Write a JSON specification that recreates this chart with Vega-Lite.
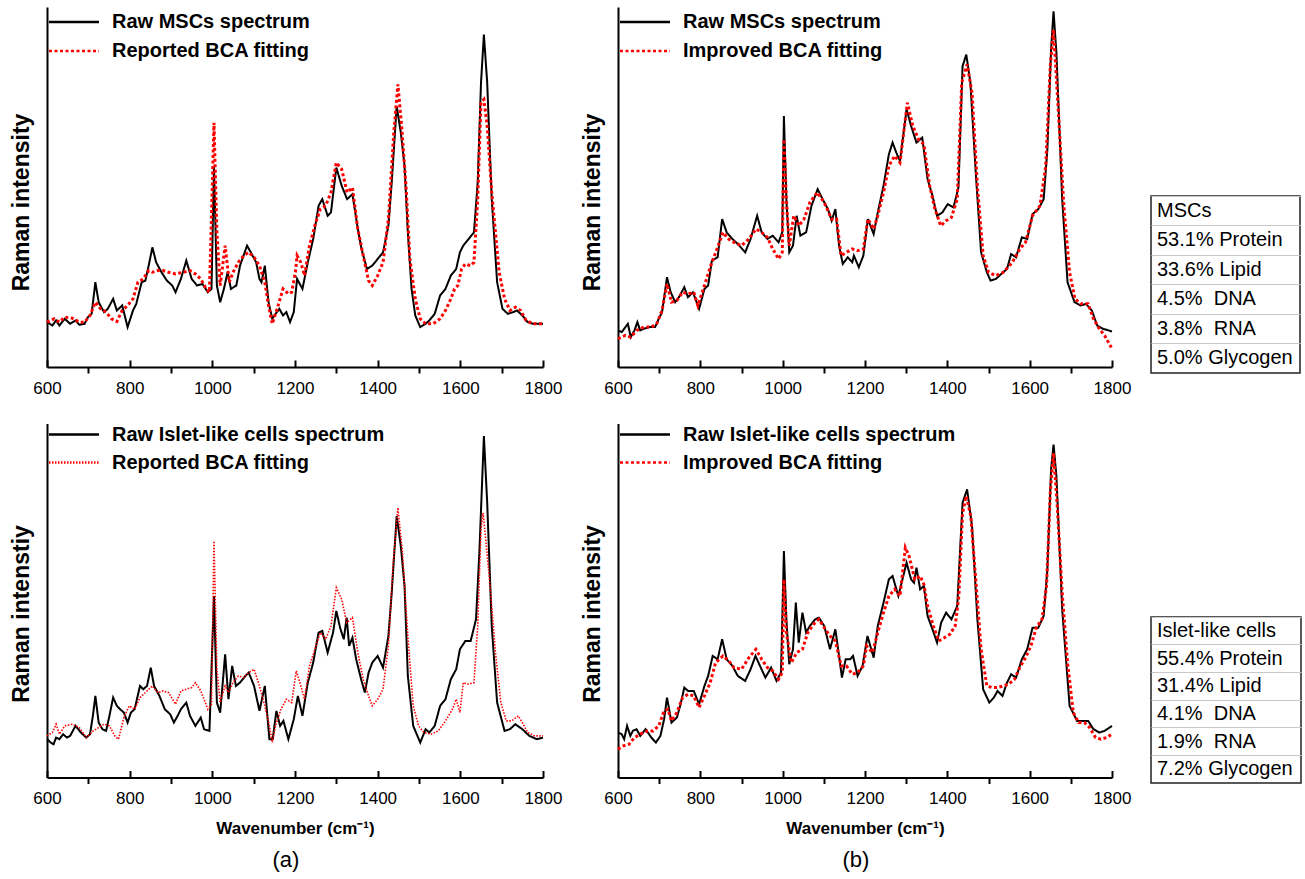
{
"$schema": "https://vega.github.io/schema/vega-lite/v6.json",
"background": "white",
"padding": {"left": 10, "top": 7, "right": 5, "bottom": 5},
"datasets": {
"a1": [
{"s":"raw","wn":600,"i":135},{"s":"raw","wn":613,"i":125},{"s":"raw","wn":622,"i":140},{"s":"raw","wn":630,"i":125},{"s":"raw","wn":643,"i":145},{"s":"raw","wn":656,"i":130},{"s":"raw","wn":669,"i":140},{"s":"raw","wn":678,"i":127},{"s":"raw","wn":691,"i":130},{"s":"raw","wn":699,"i":150},{"s":"raw","wn":708,"i":160},{"s":"raw","wn":717,"i":255},{"s":"raw","wn":725,"i":195},{"s":"raw","wn":738,"i":165},{"s":"raw","wn":747,"i":175},{"s":"raw","wn":760,"i":205},{"s":"raw","wn":769,"i":170},{"s":"raw","wn":782,"i":185},{"s":"raw","wn":795,"i":120},{"s":"raw","wn":808,"i":170},{"s":"raw","wn":816,"i":190},{"s":"raw","wn":829,"i":255},{"s":"raw","wn":838,"i":260},{"s":"raw","wn":846,"i":305},{"s":"raw","wn":855,"i":360},{"s":"raw","wn":864,"i":315},{"s":"raw","wn":877,"i":285},{"s":"raw","wn":890,"i":260},{"s":"raw","wn":903,"i":245},{"s":"raw","wn":911,"i":225},{"s":"raw","wn":924,"i":265},{"s":"raw","wn":937,"i":320},{"s":"raw","wn":950,"i":265},{"s":"raw","wn":963,"i":245},{"s":"raw","wn":976,"i":250},{"s":"raw","wn":989,"i":225},{"s":"raw","wn":998,"i":235},{"s":"raw","wn":1004,"i":605},{"s":"raw","wn":1011,"i":245},{"s":"raw","wn":1019,"i":195},{"s":"raw","wn":1028,"i":235},{"s":"raw","wn":1037,"i":285},{"s":"raw","wn":1045,"i":235},{"s":"raw","wn":1058,"i":245},{"s":"raw","wn":1067,"i":305},{"s":"raw","wn":1084,"i":365},{"s":"raw","wn":1093,"i":345},{"s":"raw","wn":1106,"i":315},{"s":"raw","wn":1114,"i":265},{"s":"raw","wn":1119,"i":255},{"s":"raw","wn":1127,"i":305},{"s":"raw","wn":1136,"i":195},{"s":"raw","wn":1145,"i":145},{"s":"raw","wn":1153,"i":160},{"s":"raw","wn":1162,"i":175},{"s":"raw","wn":1171,"i":155},{"s":"raw","wn":1179,"i":165},{"s":"raw","wn":1188,"i":135},{"s":"raw","wn":1197,"i":165},{"s":"raw","wn":1205,"i":265},{"s":"raw","wn":1218,"i":235},{"s":"raw","wn":1231,"i":315},{"s":"raw","wn":1244,"i":385},{"s":"raw","wn":1257,"i":485},{"s":"raw","wn":1266,"i":505},{"s":"raw","wn":1279,"i":455},{"s":"raw","wn":1287,"i":465},{"s":"raw","wn":1300,"i":600},{"s":"raw","wn":1313,"i":545},{"s":"raw","wn":1326,"i":505},{"s":"raw","wn":1339,"i":520},{"s":"raw","wn":1352,"i":415},{"s":"raw","wn":1361,"i":355},{"s":"raw","wn":1374,"i":295},{"s":"raw","wn":1387,"i":305},{"s":"raw","wn":1400,"i":325},{"s":"raw","wn":1413,"i":345},{"s":"raw","wn":1426,"i":425},{"s":"raw","wn":1434,"i":555},{"s":"raw","wn":1446,"i":785},{"s":"raw","wn":1456,"i":705},{"s":"raw","wn":1465,"i":605},{"s":"raw","wn":1473,"i":405},{"s":"raw","wn":1482,"i":235},{"s":"raw","wn":1491,"i":155},{"s":"raw","wn":1503,"i":120},{"s":"raw","wn":1516,"i":130},{"s":"raw","wn":1525,"i":140},{"s":"raw","wn":1538,"i":160},{"s":"raw","wn":1551,"i":215},{"s":"raw","wn":1564,"i":235},{"s":"raw","wn":1577,"i":275},{"s":"raw","wn":1590,"i":295},{"s":"raw","wn":1599,"i":345},{"s":"raw","wn":1607,"i":365},{"s":"raw","wn":1620,"i":385},{"s":"raw","wn":1633,"i":405},{"s":"raw","wn":1642,"i":555},{"s":"raw","wn":1650,"i":855},{"s":"raw","wn":1657,"i":1000},{"s":"raw","wn":1665,"i":855},{"s":"raw","wn":1676,"i":505},{"s":"raw","wn":1689,"i":255},{"s":"raw","wn":1702,"i":175},{"s":"raw","wn":1715,"i":160},{"s":"raw","wn":1728,"i":165},{"s":"raw","wn":1737,"i":170},{"s":"raw","wn":1750,"i":155},{"s":"raw","wn":1763,"i":135},{"s":"raw","wn":1776,"i":130},{"s":"raw","wn":1789,"i":130},{"s":"raw","wn":1800,"i":130},
{"s":"fit","wn":600,"i":135},{"s":"fit","wn":617,"i":145},{"s":"fit","wn":630,"i":135},{"s":"fit","wn":643,"i":150},{"s":"fit","wn":661,"i":147},{"s":"fit","wn":678,"i":135},{"s":"fit","wn":691,"i":135},{"s":"fit","wn":704,"i":155},{"s":"fit","wn":717,"i":195},{"s":"fit","wn":730,"i":175},{"s":"fit","wn":743,"i":165},{"s":"fit","wn":756,"i":145},{"s":"fit","wn":769,"i":137},{"s":"fit","wn":782,"i":170},{"s":"fit","wn":795,"i":185},{"s":"fit","wn":808,"i":205},{"s":"fit","wn":820,"i":255},{"s":"fit","wn":833,"i":265},{"s":"fit","wn":846,"i":290},{"s":"fit","wn":855,"i":285},{"s":"fit","wn":868,"i":290},{"s":"fit","wn":881,"i":290},{"s":"fit","wn":894,"i":285},{"s":"fit","wn":911,"i":280},{"s":"fit","wn":929,"i":285},{"s":"fit","wn":946,"i":290},{"s":"fit","wn":959,"i":280},{"s":"fit","wn":972,"i":265},{"s":"fit","wn":985,"i":235},{"s":"fit","wn":993,"i":225},{"s":"fit","wn":1004,"i":735},{"s":"fit","wn":1011,"i":405},{"s":"fit","wn":1019,"i":245},{"s":"fit","wn":1031,"i":365},{"s":"fit","wn":1041,"i":255},{"s":"fit","wn":1050,"i":285},{"s":"fit","wn":1063,"i":315},{"s":"fit","wn":1076,"i":335},{"s":"fit","wn":1088,"i":345},{"s":"fit","wn":1101,"i":330},{"s":"fit","wn":1114,"i":305},{"s":"fit","wn":1127,"i":255},{"s":"fit","wn":1136,"i":185},{"s":"fit","wn":1145,"i":130},{"s":"fit","wn":1158,"i":180},{"s":"fit","wn":1171,"i":235},{"s":"fit","wn":1184,"i":220},{"s":"fit","wn":1192,"i":225},{"s":"fit","wn":1201,"i":285},{"s":"fit","wn":1205,"i":335},{"s":"fit","wn":1214,"i":315},{"s":"fit","wn":1223,"i":275},{"s":"fit","wn":1235,"i":365},{"s":"fit","wn":1248,"i":425},{"s":"fit","wn":1261,"i":475},{"s":"fit","wn":1274,"i":485},{"s":"fit","wn":1287,"i":525},{"s":"fit","wn":1300,"i":615},{"s":"fit","wn":1313,"i":595},{"s":"fit","wn":1326,"i":525},{"s":"fit","wn":1339,"i":540},{"s":"fit","wn":1352,"i":415},{"s":"fit","wn":1365,"i":335},{"s":"fit","wn":1378,"i":260},{"s":"fit","wn":1387,"i":245},{"s":"fit","wn":1400,"i":275},{"s":"fit","wn":1413,"i":315},{"s":"fit","wn":1426,"i":445},{"s":"fit","wn":1439,"i":705},{"s":"fit","wn":1449,"i":850},{"s":"fit","wn":1458,"i":725},{"s":"fit","wn":1469,"i":535},{"s":"fit","wn":1478,"i":325},{"s":"fit","wn":1491,"i":205},{"s":"fit","wn":1503,"i":145},{"s":"fit","wn":1516,"i":130},{"s":"fit","wn":1534,"i":130},{"s":"fit","wn":1551,"i":145},{"s":"fit","wn":1564,"i":170},{"s":"fit","wn":1577,"i":205},{"s":"fit","wn":1586,"i":235},{"s":"fit","wn":1594,"i":245},{"s":"fit","wn":1603,"i":295},{"s":"fit","wn":1612,"i":310},{"s":"fit","wn":1625,"i":305},{"s":"fit","wn":1633,"i":315},{"s":"fit","wn":1642,"i":505},{"s":"fit","wn":1650,"i":795},{"s":"fit","wn":1657,"i":805},{"s":"fit","wn":1665,"i":725},{"s":"fit","wn":1676,"i":525},{"s":"fit","wn":1685,"i":405},{"s":"fit","wn":1694,"i":285},{"s":"fit","wn":1707,"i":205},{"s":"fit","wn":1720,"i":170},{"s":"fit","wn":1733,"i":180},{"s":"fit","wn":1746,"i":170},{"s":"fit","wn":1759,"i":140},{"s":"fit","wn":1776,"i":130},{"s":"fit","wn":1800,"i":130}
],
"b1": [
{"s":"raw","wn":600,"i":110},{"s":"raw","wn":609,"i":105},{"s":"raw","wn":618,"i":120},{"s":"raw","wn":624,"i":130},{"s":"raw","wn":631,"i":90},{"s":"raw","wn":640,"i":110},{"s":"raw","wn":647,"i":135},{"s":"raw","wn":654,"i":110},{"s":"raw","wn":663,"i":115},{"s":"raw","wn":676,"i":120},{"s":"raw","wn":690,"i":120},{"s":"raw","wn":699,"i":145},{"s":"raw","wn":707,"i":165},{"s":"raw","wn":719,"i":270},{"s":"raw","wn":728,"i":225},{"s":"raw","wn":739,"i":195},{"s":"raw","wn":748,"i":210},{"s":"raw","wn":761,"i":240},{"s":"raw","wn":770,"i":210},{"s":"raw","wn":782,"i":225},{"s":"raw","wn":797,"i":175},{"s":"raw","wn":810,"i":235},{"s":"raw","wn":819,"i":245},{"s":"raw","wn":828,"i":320},{"s":"raw","wn":842,"i":330},{"s":"raw","wn":853,"i":445},{"s":"raw","wn":864,"i":405},{"s":"raw","wn":878,"i":385},{"s":"raw","wn":891,"i":370},{"s":"raw","wn":909,"i":345},{"s":"raw","wn":922,"i":385},{"s":"raw","wn":938,"i":455},{"s":"raw","wn":949,"i":405},{"s":"raw","wn":963,"i":385},{"s":"raw","wn":976,"i":395},{"s":"raw","wn":990,"i":375},{"s":"raw","wn":999,"i":405},{"s":"raw","wn":1003,"i":755},{"s":"raw","wn":1009,"i":505},{"s":"raw","wn":1016,"i":345},{"s":"raw","wn":1025,"i":365},{"s":"raw","wn":1034,"i":455},{"s":"raw","wn":1043,"i":395},{"s":"raw","wn":1057,"i":405},{"s":"raw","wn":1070,"i":485},{"s":"raw","wn":1085,"i":535},{"s":"raw","wn":1097,"i":505},{"s":"raw","wn":1110,"i":475},{"s":"raw","wn":1119,"i":440},{"s":"raw","wn":1128,"i":475},{"s":"raw","wn":1137,"i":365},{"s":"raw","wn":1146,"i":310},{"s":"raw","wn":1158,"i":330},{"s":"raw","wn":1169,"i":315},{"s":"raw","wn":1173,"i":335},{"s":"raw","wn":1185,"i":300},{"s":"raw","wn":1196,"i":335},{"s":"raw","wn":1207,"i":445},{"s":"raw","wn":1221,"i":400},{"s":"raw","wn":1231,"i":465},{"s":"raw","wn":1245,"i":545},{"s":"raw","wn":1258,"i":640},{"s":"raw","wn":1267,"i":675},{"s":"raw","wn":1276,"i":645},{"s":"raw","wn":1285,"i":620},{"s":"raw","wn":1301,"i":775},{"s":"raw","wn":1312,"i":725},{"s":"raw","wn":1325,"i":675},{"s":"raw","wn":1339,"i":690},{"s":"raw","wn":1352,"i":565},{"s":"raw","wn":1364,"i":515},{"s":"raw","wn":1375,"i":455},{"s":"raw","wn":1388,"i":465},{"s":"raw","wn":1401,"i":490},{"s":"raw","wn":1415,"i":480},{"s":"raw","wn":1427,"i":540},{"s":"raw","wn":1437,"i":905},{"s":"raw","wn":1446,"i":940},{"s":"raw","wn":1456,"i":855},{"s":"raw","wn":1469,"i":585},{"s":"raw","wn":1482,"i":345},{"s":"raw","wn":1496,"i":285},{"s":"raw","wn":1505,"i":260},{"s":"raw","wn":1518,"i":265},{"s":"raw","wn":1531,"i":280},{"s":"raw","wn":1545,"i":295},{"s":"raw","wn":1555,"i":340},{"s":"raw","wn":1567,"i":330},{"s":"raw","wn":1581,"i":390},{"s":"raw","wn":1594,"i":385},{"s":"raw","wn":1607,"i":460},{"s":"raw","wn":1621,"i":475},{"s":"raw","wn":1634,"i":505},{"s":"raw","wn":1643,"i":655},{"s":"raw","wn":1652,"i":955},{"s":"raw","wn":1658,"i":1070},{"s":"raw","wn":1665,"i":945},{"s":"raw","wn":1679,"i":505},{"s":"raw","wn":1692,"i":255},{"s":"raw","wn":1709,"i":195},{"s":"raw","wn":1724,"i":185},{"s":"raw","wn":1737,"i":190},{"s":"raw","wn":1751,"i":170},{"s":"raw","wn":1764,"i":125},{"s":"raw","wn":1778,"i":115},{"s":"raw","wn":1800,"i":107},
{"s":"fit","wn":600,"i":85},{"s":"fit","wn":618,"i":95},{"s":"fit","wn":631,"i":90},{"s":"fit","wn":645,"i":110},{"s":"fit","wn":663,"i":120},{"s":"fit","wn":681,"i":120},{"s":"fit","wn":694,"i":130},{"s":"fit","wn":707,"i":170},{"s":"fit","wn":719,"i":250},{"s":"fit","wn":730,"i":195},{"s":"fit","wn":743,"i":200},{"s":"fit","wn":757,"i":225},{"s":"fit","wn":770,"i":220},{"s":"fit","wn":784,"i":225},{"s":"fit","wn":794,"i":185},{"s":"fit","wn":810,"i":245},{"s":"fit","wn":828,"i":315},{"s":"fit","wn":842,"i":360},{"s":"fit","wn":855,"i":405},{"s":"fit","wn":869,"i":385},{"s":"fit","wn":882,"i":375},{"s":"fit","wn":900,"i":365},{"s":"fit","wn":918,"i":385},{"s":"fit","wn":935,"i":415},{"s":"fit","wn":949,"i":405},{"s":"fit","wn":963,"i":390},{"s":"fit","wn":976,"i":355},{"s":"fit","wn":990,"i":325},{"s":"fit","wn":999,"i":345},{"s":"fit","wn":1003,"i":685},{"s":"fit","wn":1009,"i":505},{"s":"fit","wn":1016,"i":365},{"s":"fit","wn":1027,"i":455},{"s":"fit","wn":1039,"i":425},{"s":"fit","wn":1052,"i":445},{"s":"fit","wn":1066,"i":495},{"s":"fit","wn":1084,"i":525},{"s":"fit","wn":1101,"i":495},{"s":"fit","wn":1119,"i":445},{"s":"fit","wn":1131,"i":445},{"s":"fit","wn":1142,"i":335},{"s":"fit","wn":1155,"i":345},{"s":"fit","wn":1169,"i":355},{"s":"fit","wn":1182,"i":350},{"s":"fit","wn":1196,"i":355},{"s":"fit","wn":1207,"i":445},{"s":"fit","wn":1221,"i":415},{"s":"fit","wn":1231,"i":455},{"s":"fit","wn":1245,"i":525},{"s":"fit","wn":1258,"i":605},{"s":"fit","wn":1272,"i":635},{"s":"fit","wn":1285,"i":615},{"s":"fit","wn":1303,"i":795},{"s":"fit","wn":1316,"i":725},{"s":"fit","wn":1330,"i":685},{"s":"fit","wn":1343,"i":670},{"s":"fit","wn":1357,"i":545},{"s":"fit","wn":1370,"i":475},{"s":"fit","wn":1384,"i":425},{"s":"fit","wn":1397,"i":440},{"s":"fit","wn":1410,"i":450},{"s":"fit","wn":1424,"i":505},{"s":"fit","wn":1435,"i":855},{"s":"fit","wn":1448,"i":910},{"s":"fit","wn":1460,"i":825},{"s":"fit","wn":1473,"i":545},{"s":"fit","wn":1487,"i":335},{"s":"fit","wn":1500,"i":285},{"s":"fit","wn":1518,"i":275},{"s":"fit","wn":1536,"i":285},{"s":"fit","wn":1558,"i":315},{"s":"fit","wn":1576,"i":355},{"s":"fit","wn":1590,"i":375},{"s":"fit","wn":1607,"i":455},{"s":"fit","wn":1625,"i":485},{"s":"fit","wn":1639,"i":605},{"s":"fit","wn":1650,"i":905},{"s":"fit","wn":1658,"i":1015},{"s":"fit","wn":1668,"i":805},{"s":"fit","wn":1683,"i":485},{"s":"fit","wn":1697,"i":285},{"s":"fit","wn":1710,"i":205},{"s":"fit","wn":1724,"i":190},{"s":"fit","wn":1742,"i":190},{"s":"fit","wn":1755,"i":145},{"s":"fit","wn":1769,"i":115},{"s":"fit","wn":1782,"i":95},{"s":"fit","wn":1800,"i":55}
],
"a2": [
{"s":"raw","wn":600,"i":115},{"s":"raw","wn":609,"i":105},{"s":"raw","wn":616,"i":100},{"s":"raw","wn":622,"i":120},{"s":"raw","wn":630,"i":115},{"s":"raw","wn":639,"i":130},{"s":"raw","wn":648,"i":120},{"s":"raw","wn":656,"i":125},{"s":"raw","wn":669,"i":155},{"s":"raw","wn":682,"i":135},{"s":"raw","wn":695,"i":120},{"s":"raw","wn":704,"i":130},{"s":"raw","wn":711,"i":185},{"s":"raw","wn":717,"i":245},{"s":"raw","wn":725,"i":165},{"s":"raw","wn":734,"i":145},{"s":"raw","wn":743,"i":140},{"s":"raw","wn":751,"i":185},{"s":"raw","wn":760,"i":240},{"s":"raw","wn":769,"i":215},{"s":"raw","wn":777,"i":205},{"s":"raw","wn":786,"i":195},{"s":"raw","wn":795,"i":165},{"s":"raw","wn":803,"i":195},{"s":"raw","wn":812,"i":205},{"s":"raw","wn":825,"i":275},{"s":"raw","wn":833,"i":265},{"s":"raw","wn":842,"i":275},{"s":"raw","wn":851,"i":330},{"s":"raw","wn":859,"i":275},{"s":"raw","wn":872,"i":245},{"s":"raw","wn":885,"i":205},{"s":"raw","wn":898,"i":190},{"s":"raw","wn":907,"i":165},{"s":"raw","wn":916,"i":185},{"s":"raw","wn":924,"i":205},{"s":"raw","wn":937,"i":225},{"s":"raw","wn":946,"i":185},{"s":"raw","wn":959,"i":155},{"s":"raw","wn":972,"i":180},{"s":"raw","wn":980,"i":145},{"s":"raw","wn":993,"i":140},{"s":"raw","wn":1004,"i":545},{"s":"raw","wn":1011,"i":225},{"s":"raw","wn":1019,"i":195},{"s":"raw","wn":1031,"i":370},{"s":"raw","wn":1039,"i":235},{"s":"raw","wn":1048,"i":335},{"s":"raw","wn":1057,"i":275},{"s":"raw","wn":1067,"i":285},{"s":"raw","wn":1080,"i":305},{"s":"raw","wn":1088,"i":315},{"s":"raw","wn":1101,"i":275},{"s":"raw","wn":1114,"i":200},{"s":"raw","wn":1127,"i":275},{"s":"raw","wn":1138,"i":115},{"s":"raw","wn":1146,"i":115},{"s":"raw","wn":1155,"i":200},{"s":"raw","wn":1164,"i":155},{"s":"raw","wn":1172,"i":170},{"s":"raw","wn":1184,"i":115},{"s":"raw","wn":1197,"i":175},{"s":"raw","wn":1207,"i":245},{"s":"raw","wn":1218,"i":185},{"s":"raw","wn":1231,"i":285},{"s":"raw","wn":1244,"i":345},{"s":"raw","wn":1257,"i":435},{"s":"raw","wn":1266,"i":440},{"s":"raw","wn":1279,"i":375},{"s":"raw","wn":1292,"i":435},{"s":"raw","wn":1300,"i":500},{"s":"raw","wn":1309,"i":450},{"s":"raw","wn":1318,"i":415},{"s":"raw","wn":1325,"i":480},{"s":"raw","wn":1331,"i":395},{"s":"raw","wn":1339,"i":420},{"s":"raw","wn":1348,"i":355},{"s":"raw","wn":1361,"i":290},{"s":"raw","wn":1369,"i":255},{"s":"raw","wn":1378,"i":315},{"s":"raw","wn":1387,"i":345},{"s":"raw","wn":1400,"i":365},{"s":"raw","wn":1413,"i":330},{"s":"raw","wn":1426,"i":425},{"s":"raw","wn":1434,"i":555},{"s":"raw","wn":1446,"i":785},{"s":"raw","wn":1456,"i":695},{"s":"raw","wn":1465,"i":575},{"s":"raw","wn":1473,"i":305},{"s":"raw","wn":1486,"i":155},{"s":"raw","wn":1503,"i":105},{"s":"raw","wn":1516,"i":145},{"s":"raw","wn":1525,"i":135},{"s":"raw","wn":1538,"i":155},{"s":"raw","wn":1551,"i":215},{"s":"raw","wn":1564,"i":235},{"s":"raw","wn":1577,"i":295},{"s":"raw","wn":1590,"i":325},{"s":"raw","wn":1599,"i":385},{"s":"raw","wn":1612,"i":410},{"s":"raw","wn":1625,"i":410},{"s":"raw","wn":1638,"i":475},{"s":"raw","wn":1646,"i":675},{"s":"raw","wn":1657,"i":1025},{"s":"raw","wn":1665,"i":825},{"s":"raw","wn":1676,"i":455},{"s":"raw","wn":1689,"i":225},{"s":"raw","wn":1707,"i":140},{"s":"raw","wn":1720,"i":145},{"s":"raw","wn":1733,"i":160},{"s":"raw","wn":1750,"i":145},{"s":"raw","wn":1767,"i":125},{"s":"raw","wn":1785,"i":115},{"s":"raw","wn":1800,"i":120},
{"s":"fit","wn":600,"i":125},{"s":"fit","wn":613,"i":135},{"s":"fit","wn":622,"i":160},{"s":"fit","wn":630,"i":130},{"s":"fit","wn":643,"i":155},{"s":"fit","wn":661,"i":160},{"s":"fit","wn":678,"i":150},{"s":"fit","wn":695,"i":120},{"s":"fit","wn":712,"i":140},{"s":"fit","wn":725,"i":150},{"s":"fit","wn":738,"i":160},{"s":"fit","wn":751,"i":155},{"s":"fit","wn":764,"i":125},{"s":"fit","wn":773,"i":115},{"s":"fit","wn":786,"i":180},{"s":"fit","wn":799,"i":215},{"s":"fit","wn":812,"i":205},{"s":"fit","wn":825,"i":240},{"s":"fit","wn":842,"i":260},{"s":"fit","wn":855,"i":275},{"s":"fit","wn":868,"i":255},{"s":"fit","wn":881,"i":260},{"s":"fit","wn":894,"i":255},{"s":"fit","wn":911,"i":220},{"s":"fit","wn":924,"i":260},{"s":"fit","wn":937,"i":265},{"s":"fit","wn":950,"i":270},{"s":"fit","wn":959,"i":285},{"s":"fit","wn":972,"i":260},{"s":"fit","wn":980,"i":235},{"s":"fit","wn":989,"i":205},{"s":"fit","wn":998,"i":220},{"s":"fit","wn":1004,"i":710},{"s":"fit","wn":1011,"i":325},{"s":"fit","wn":1019,"i":225},{"s":"fit","wn":1031,"i":275},{"s":"fit","wn":1039,"i":255},{"s":"fit","wn":1050,"i":285},{"s":"fit","wn":1063,"i":305},{"s":"fit","wn":1076,"i":300},{"s":"fit","wn":1088,"i":315},{"s":"fit","wn":1101,"i":325},{"s":"fit","wn":1114,"i":275},{"s":"fit","wn":1127,"i":215},{"s":"fit","wn":1138,"i":155},{"s":"fit","wn":1145,"i":105},{"s":"fit","wn":1153,"i":155},{"s":"fit","wn":1166,"i":205},{"s":"fit","wn":1179,"i":235},{"s":"fit","wn":1192,"i":225},{"s":"fit","wn":1203,"i":320},{"s":"fit","wn":1212,"i":285},{"s":"fit","wn":1223,"i":235},{"s":"fit","wn":1235,"i":335},{"s":"fit","wn":1248,"i":385},{"s":"fit","wn":1261,"i":435},{"s":"fit","wn":1274,"i":415},{"s":"fit","wn":1287,"i":455},{"s":"fit","wn":1300,"i":570},{"s":"fit","wn":1313,"i":535},{"s":"fit","wn":1325,"i":465},{"s":"fit","wn":1339,"i":480},{"s":"fit","wn":1352,"i":375},{"s":"fit","wn":1365,"i":295},{"s":"fit","wn":1378,"i":245},{"s":"fit","wn":1387,"i":215},{"s":"fit","wn":1400,"i":235},{"s":"fit","wn":1413,"i":265},{"s":"fit","wn":1426,"i":395},{"s":"fit","wn":1437,"i":635},{"s":"fit","wn":1449,"i":810},{"s":"fit","wn":1460,"i":675},{"s":"fit","wn":1473,"i":425},{"s":"fit","wn":1486,"i":215},{"s":"fit","wn":1499,"i":155},{"s":"fit","wn":1512,"i":135},{"s":"fit","wn":1529,"i":130},{"s":"fit","wn":1547,"i":140},{"s":"fit","wn":1564,"i":170},{"s":"fit","wn":1581,"i":205},{"s":"fit","wn":1590,"i":235},{"s":"fit","wn":1599,"i":195},{"s":"fit","wn":1607,"i":285},{"s":"fit","wn":1620,"i":280},{"s":"fit","wn":1633,"i":285},{"s":"fit","wn":1642,"i":455},{"s":"fit","wn":1650,"i":745},{"s":"fit","wn":1655,"i":795},{"s":"fit","wn":1663,"i":695},{"s":"fit","wn":1672,"i":575},{"s":"fit","wn":1685,"i":375},{"s":"fit","wn":1698,"i":225},{"s":"fit","wn":1711,"i":170},{"s":"fit","wn":1724,"i":170},{"s":"fit","wn":1740,"i":185},{"s":"fit","wn":1750,"i":165},{"s":"fit","wn":1763,"i":135},{"s":"fit","wn":1780,"i":125},{"s":"fit","wn":1800,"i":125}
],
"b2": [
{"s":"raw","wn":600,"i":135},{"s":"raw","wn":609,"i":130},{"s":"raw","wn":615,"i":115},{"s":"raw","wn":622,"i":155},{"s":"raw","wn":630,"i":125},{"s":"raw","wn":636,"i":140},{"s":"raw","wn":645,"i":145},{"s":"raw","wn":654,"i":125},{"s":"raw","wn":667,"i":145},{"s":"raw","wn":681,"i":120},{"s":"raw","wn":692,"i":105},{"s":"raw","wn":703,"i":125},{"s":"raw","wn":712,"i":175},{"s":"raw","wn":719,"i":240},{"s":"raw","wn":730,"i":165},{"s":"raw","wn":743,"i":180},{"s":"raw","wn":752,"i":220},{"s":"raw","wn":761,"i":270},{"s":"raw","wn":770,"i":260},{"s":"raw","wn":784,"i":260},{"s":"raw","wn":797,"i":220},{"s":"raw","wn":810,"i":275},{"s":"raw","wn":819,"i":305},{"s":"raw","wn":830,"i":365},{"s":"raw","wn":842,"i":355},{"s":"raw","wn":853,"i":415},{"s":"raw","wn":864,"i":355},{"s":"raw","wn":878,"i":335},{"s":"raw","wn":891,"i":305},{"s":"raw","wn":909,"i":290},{"s":"raw","wn":922,"i":325},{"s":"raw","wn":934,"i":365},{"s":"raw","wn":945,"i":335},{"s":"raw","wn":958,"i":300},{"s":"raw","wn":972,"i":330},{"s":"raw","wn":985,"i":290},{"s":"raw","wn":996,"i":315},{"s":"raw","wn":1003,"i":680},{"s":"raw","wn":1009,"i":475},{"s":"raw","wn":1016,"i":340},{"s":"raw","wn":1025,"i":385},{"s":"raw","wn":1032,"i":525},{"s":"raw","wn":1039,"i":405},{"s":"raw","wn":1048,"i":495},{"s":"raw","wn":1057,"i":435},{"s":"raw","wn":1066,"i":455},{"s":"raw","wn":1079,"i":475},{"s":"raw","wn":1088,"i":480},{"s":"raw","wn":1101,"i":455},{"s":"raw","wn":1115,"i":385},{"s":"raw","wn":1128,"i":445},{"s":"raw","wn":1137,"i":365},{"s":"raw","wn":1144,"i":300},{"s":"raw","wn":1153,"i":355},{"s":"raw","wn":1164,"i":355},{"s":"raw","wn":1171,"i":365},{"s":"raw","wn":1182,"i":305},{"s":"raw","wn":1194,"i":335},{"s":"raw","wn":1206,"i":425},{"s":"raw","wn":1221,"i":360},{"s":"raw","wn":1231,"i":455},{"s":"raw","wn":1245,"i":525},{"s":"raw","wn":1258,"i":595},{"s":"raw","wn":1267,"i":605},{"s":"raw","wn":1281,"i":545},{"s":"raw","wn":1290,"i":590},{"s":"raw","wn":1301,"i":645},{"s":"raw","wn":1312,"i":595},{"s":"raw","wn":1319,"i":585},{"s":"raw","wn":1325,"i":630},{"s":"raw","wn":1334,"i":565},{"s":"raw","wn":1343,"i":575},{"s":"raw","wn":1352,"i":485},{"s":"raw","wn":1364,"i":445},{"s":"raw","wn":1375,"i":405},{"s":"raw","wn":1385,"i":465},{"s":"raw","wn":1397,"i":495},{"s":"raw","wn":1410,"i":475},{"s":"raw","wn":1424,"i":515},{"s":"raw","wn":1437,"i":825},{"s":"raw","wn":1448,"i":865},{"s":"raw","wn":1460,"i":755},{"s":"raw","wn":1473,"i":475},{"s":"raw","wn":1487,"i":265},{"s":"raw","wn":1502,"i":225},{"s":"raw","wn":1513,"i":240},{"s":"raw","wn":1522,"i":260},{"s":"raw","wn":1534,"i":245},{"s":"raw","wn":1545,"i":285},{"s":"raw","wn":1555,"i":310},{"s":"raw","wn":1567,"i":300},{"s":"raw","wn":1581,"i":355},{"s":"raw","wn":1594,"i":385},{"s":"raw","wn":1607,"i":450},{"s":"raw","wn":1621,"i":450},{"s":"raw","wn":1634,"i":485},{"s":"raw","wn":1643,"i":625},{"s":"raw","wn":1652,"i":925},{"s":"raw","wn":1658,"i":1000},{"s":"raw","wn":1665,"i":905},{"s":"raw","wn":1679,"i":505},{"s":"raw","wn":1697,"i":215},{"s":"raw","wn":1715,"i":170},{"s":"raw","wn":1728,"i":170},{"s":"raw","wn":1742,"i":170},{"s":"raw","wn":1755,"i":145},{"s":"raw","wn":1769,"i":135},{"s":"raw","wn":1782,"i":140},{"s":"raw","wn":1800,"i":155},
{"s":"fit","wn":600,"i":85},{"s":"fit","wn":613,"i":95},{"s":"fit","wn":627,"i":100},{"s":"fit","wn":640,"i":120},{"s":"fit","wn":654,"i":130},{"s":"fit","wn":672,"i":140},{"s":"fit","wn":685,"i":140},{"s":"fit","wn":699,"i":155},{"s":"fit","wn":712,"i":200},{"s":"fit","wn":721,"i":205},{"s":"fit","wn":730,"i":170},{"s":"fit","wn":743,"i":195},{"s":"fit","wn":757,"i":240},{"s":"fit","wn":770,"i":250},{"s":"fit","wn":784,"i":245},{"s":"fit","wn":797,"i":210},{"s":"fit","wn":810,"i":245},{"s":"fit","wn":824,"i":285},{"s":"fit","wn":837,"i":345},{"s":"fit","wn":855,"i":365},{"s":"fit","wn":869,"i":350},{"s":"fit","wn":882,"i":330},{"s":"fit","wn":900,"i":325},{"s":"fit","wn":918,"i":360},{"s":"fit","wn":935,"i":385},{"s":"fit","wn":949,"i":355},{"s":"fit","wn":963,"i":330},{"s":"fit","wn":976,"i":320},{"s":"fit","wn":990,"i":295},{"s":"fit","wn":999,"i":315},{"s":"fit","wn":1003,"i":595},{"s":"fit","wn":1009,"i":435},{"s":"fit","wn":1021,"i":345},{"s":"fit","wn":1034,"i":375},{"s":"fit","wn":1048,"i":385},{"s":"fit","wn":1061,"i":435},{"s":"fit","wn":1075,"i":460},{"s":"fit","wn":1088,"i":475},{"s":"fit","wn":1101,"i":450},{"s":"fit","wn":1115,"i":425},{"s":"fit","wn":1128,"i":410},{"s":"fit","wn":1142,"i":335},{"s":"fit","wn":1155,"i":335},{"s":"fit","wn":1169,"i":310},{"s":"fit","wn":1182,"i":315},{"s":"fit","wn":1196,"i":335},{"s":"fit","wn":1204,"i":395},{"s":"fit","wn":1218,"i":375},{"s":"fit","wn":1231,"i":435},{"s":"fit","wn":1245,"i":495},{"s":"fit","wn":1258,"i":545},{"s":"fit","wn":1272,"i":565},{"s":"fit","wn":1285,"i":545},{"s":"fit","wn":1298,"i":690},{"s":"fit","wn":1307,"i":665},{"s":"fit","wn":1321,"i":595},{"s":"fit","wn":1334,"i":605},{"s":"fit","wn":1343,"i":580},{"s":"fit","wn":1352,"i":515},{"s":"fit","wn":1366,"i":455},{"s":"fit","wn":1379,"i":410},{"s":"fit","wn":1393,"i":420},{"s":"fit","wn":1406,"i":430},{"s":"fit","wn":1419,"i":455},{"s":"fit","wn":1428,"i":545},{"s":"fit","wn":1437,"i":795},{"s":"fit","wn":1446,"i":845},{"s":"fit","wn":1457,"i":785},{"s":"fit","wn":1469,"i":595},{"s":"fit","wn":1482,"i":385},{"s":"fit","wn":1496,"i":275},{"s":"fit","wn":1509,"i":270},{"s":"fit","wn":1522,"i":270},{"s":"fit","wn":1536,"i":275},{"s":"fit","wn":1549,"i":280},{"s":"fit","wn":1563,"i":295},{"s":"fit","wn":1576,"i":330},{"s":"fit","wn":1590,"i":360},{"s":"fit","wn":1603,"i":395},{"s":"fit","wn":1616,"i":450},{"s":"fit","wn":1630,"i":475},{"s":"fit","wn":1641,"i":575},{"s":"fit","wn":1650,"i":855},{"s":"fit","wn":1658,"i":975},{"s":"fit","wn":1667,"i":815},{"s":"fit","wn":1679,"i":555},{"s":"fit","wn":1692,"i":345},{"s":"fit","wn":1706,"i":195},{"s":"fit","wn":1719,"i":165},{"s":"fit","wn":1733,"i":165},{"s":"fit","wn":1746,"i":150},{"s":"fit","wn":1760,"i":120},{"s":"fit","wn":1773,"i":115},{"s":"fit","wn":1787,"i":120},{"s":"fit","wn":1800,"i":130}
]
},
"spacing": 19,
"resolve": {"scale": {"x": "independent", "y": "independent", "color": "independent", "strokeDash": "independent"}, "legend": {"color": "independent", "strokeDash": "independent"}, "axis": {"x": "independent", "y": "independent"}},
"hconcat": [
{
"spacing": 14.5,
"title": {"text": "(a)", "orient": "bottom", "fontSize": 22, "fontWeight": "normal", "offset": 13, "anchor": "middle"},
"resolve": {"scale": {"x": "independent", "y": "independent", "color": "independent", "strokeDash": "independent"}, "legend": {"color": "independent", "strokeDash": "independent"}, "axis": {"x": "independent", "y": "independent"}},
"vconcat": [
{
"width": 496, "height": 360,
"data": {"name": "a1"},
"encoding": {
"x": {"field": "wn", "type": "quantitative", "scale": {"domain": [600, 1800], "nice": false, "zero": false}, "axis": {"title": null, "values": [600,700,800,900,1000,1100,1200,1300,1400,1500,1600,1700,1800], "format": "d", "labelExpr": "datum.value % 200 === 0 ? datum.label : ''", "tickSize": {"condition": {"test": "datum.value % 200 === 0", "value": -7}, "value": 6}, "labelFontSize": 17, "labelPadding": 20}},
"y": {"field": "i", "type": "quantitative", "scale": {"domain": [0, 1083], "nice": false}, "axis": {"title": "Raman intensity", "titleY": 195}},
"color": {"field": "s", "type": "nominal", "scale": {"domain": ["raw", "fit"], "range": ["#000000", "#ff0000"]}, "legend": {"title": null, "orient": "none", "legendX": 17, "legendY": 5, "rowPadding": 9, "labelExpr": "datum.value === 'raw' ? 'Raw MSCs spectrum' : 'Reported BCA fitting'"}},
"strokeDash": {"field": "s", "type": "nominal", "scale": {"domain": ["raw", "fit"], "range": [[1, 0], [3, 2.5]]}, "legend": {"title": null, "orient": "none", "legendX": 17, "legendY": 5, "rowPadding": 9, "labelExpr": "datum.value === 'raw' ? 'Raw MSCs spectrum' : 'Reported BCA fitting'"}}
},
"layer": [
{"transform": [{"filter": "datum.s === 'raw'"}], "mark": {"type": "line", "strokeWidth": 2}},
{"transform": [{"filter": "datum.s === 'fit'"}], "mark": {"type": "line", "strokeWidth": 3}}
]
},
{
"width": 496, "height": 354,
"data": {"name": "a2"},
"encoding": {
"x": {"field": "wn", "type": "quantitative", "scale": {"domain": [600, 1800], "nice": false, "zero": false}, "axis": {"title": "Wavenumber (cm⁻¹)", "values": [600,700,800,900,1000,1100,1200,1300,1400,1500,1600,1700,1800], "format": "d", "labelExpr": "datum.value % 200 === 0 ? datum.label : ''", "tickSize": {"condition": {"test": "datum.value % 200 === 0", "value": -7}, "value": 6}, "labelFontSize": 17, "labelPadding": 20, "titleFontSize": 17, "titlePadding": 1}},
"y": {"field": "i", "type": "quantitative", "scale": {"domain": [0, 1063], "nice": false}, "axis": {"title": "Raman intenstiy", "titleY": 190}},
"color": {"field": "s", "type": "nominal", "scale": {"domain": ["raw", "fit"], "range": ["#000000", "#ff0000"]}, "legend": {"title": null, "orient": "none", "legendX": 17, "legendY": 1, "rowPadding": 8, "labelExpr": "datum.value === 'raw' ? 'Raw Islet-like cells spectrum' : 'Reported BCA fitting'"}},
"strokeDash": {"field": "s", "type": "nominal", "scale": {"domain": ["raw", "fit"], "range": [[1, 0], [1.5, 1.5]]}, "legend": {"title": null, "orient": "none", "legendX": 17, "legendY": 1, "rowPadding": 8, "labelExpr": "datum.value === 'raw' ? 'Raw Islet-like cells spectrum' : 'Reported BCA fitting'"}}
},
"layer": [
{"transform": [{"filter": "datum.s === 'raw'"}], "mark": {"type": "line", "strokeWidth": 2}},
{"transform": [{"filter": "datum.s === 'fit'"}], "mark": {"type": "line", "strokeWidth": 1.6}}
]
}
]
},
{
"spacing": 14.5,
"title": {"text": "(b)", "orient": "bottom", "fontSize": 22, "fontWeight": "normal", "offset": 13, "anchor": "middle"},
"resolve": {"scale": {"x": "independent", "y": "independent", "color": "independent", "strokeDash": "independent"}, "legend": {"color": "independent", "strokeDash": "independent"}, "axis": {"x": "independent", "y": "independent"}},
"vconcat": [
{
"width": 494, "height": 360,
"data": {"name": "b1"},
"encoding": {
"x": {"field": "wn", "type": "quantitative", "scale": {"domain": [600, 1800], "nice": false, "zero": false}, "axis": {"title": null, "values": [600,700,800,900,1000,1100,1200,1300,1400,1500,1600,1700,1800], "format": "d", "labelExpr": "datum.value % 200 === 0 ? datum.label : ''", "tickSize": {"condition": {"test": "datum.value % 200 === 0", "value": -7}, "value": 6}, "labelFontSize": 17, "labelPadding": 20}},
"y": {"field": "i", "type": "quantitative", "scale": {"domain": [0, 1083], "nice": false}, "axis": {"title": "Raman intensity", "titleY": 195}},
"color": {"field": "s", "type": "nominal", "scale": {"domain": ["raw", "fit"], "range": ["#000000", "#ff0000"]}, "legend": {"title": null, "orient": "none", "legendX": 17, "legendY": 5, "rowPadding": 9, "labelExpr": "datum.value === 'raw' ? 'Raw MSCs spectrum' : 'Improved BCA fitting'"}},
"strokeDash": {"field": "s", "type": "nominal", "scale": {"domain": ["raw", "fit"], "range": [[1, 0], [3, 2.5]]}, "legend": {"title": null, "orient": "none", "legendX": 17, "legendY": 5, "rowPadding": 9, "labelExpr": "datum.value === 'raw' ? 'Raw MSCs spectrum' : 'Improved BCA fitting'"}}
},
"layer": [
{"transform": [{"filter": "datum.s === 'raw'"}], "mark": {"type": "line", "strokeWidth": 2}},
{"transform": [{"filter": "datum.s === 'fit'"}], "mark": {"type": "line", "strokeWidth": 3}}
]
},
{
"width": 494, "height": 354,
"data": {"name": "b2"},
"encoding": {
"x": {"field": "wn", "type": "quantitative", "scale": {"domain": [600, 1800], "nice": false, "zero": false}, "axis": {"title": "Wavenumber (cm⁻¹)", "values": [600,700,800,900,1000,1100,1200,1300,1400,1500,1600,1700,1800], "format": "d", "labelExpr": "datum.value % 200 === 0 ? datum.label : ''", "tickSize": {"condition": {"test": "datum.value % 200 === 0", "value": -7}, "value": 6}, "labelFontSize": 17, "labelPadding": 20, "titleFontSize": 17, "titlePadding": 1}},
"y": {"field": "i", "type": "quantitative", "scale": {"domain": [0, 1063], "nice": false}, "axis": {"title": "Raman intensity", "titleY": 190}},
"color": {"field": "s", "type": "nominal", "scale": {"domain": ["raw", "fit"], "range": ["#000000", "#ff0000"]}, "legend": {"title": null, "orient": "none", "legendX": 17, "legendY": 1, "rowPadding": 8, "labelExpr": "datum.value === 'raw' ? 'Raw Islet-like cells spectrum' : 'Improved BCA fitting'"}},
"strokeDash": {"field": "s", "type": "nominal", "scale": {"domain": ["raw", "fit"], "range": [[1, 0], [3, 2.5]]}, "legend": {"title": null, "orient": "none", "legendX": 17, "legendY": 1, "rowPadding": 8, "labelExpr": "datum.value === 'raw' ? 'Raw Islet-like cells spectrum' : 'Improved BCA fitting'"}}
},
"layer": [
{"transform": [{"filter": "datum.s === 'raw'"}], "mark": {"type": "line", "strokeWidth": 2}},
{"transform": [{"filter": "datum.s === 'fit'"}], "mark": {"type": "line", "strokeWidth": 3}}
]
}
]
},
{
"spacing": 0,
"vconcat": [
{"width": 149, "height": 188, "data": {"values": [{}]}, "mark": {"type": "text", "text": ""}, "encoding": {}},
{
"width": 149, "height": 177,
"view": {"stroke": "#222222", "strokeWidth": 1.5},
"data": {"values": [{"r": 0, "t": "MSCs"}, {"r": 1, "t": "53.1% Protein"}, {"r": 2, "t": "33.6% Lipid"}, {"r": 3, "t": "4.5%\u00a0 DNA"}, {"r": 4, "t": "3.8%\u00a0 RNA"}, {"r": 5, "t": "5.0% Glycogen"}]},
"mark": {"type": "text", "align": "left", "baseline": "middle", "dx": 6, "fontSize": 20, "color": "#000000"},
"encoding": {
"y": {"field": "r", "type": "ordinal", "scale": {"type": "band", "paddingInner": 0, "paddingOuter": 0}, "axis": {"title": null, "labels": false, "ticks": false, "domain": false, "grid": true, "bandPosition": 0, "gridColor": "#c8c8c8", "gridWidth": 1}},
"x": {"datum": 0, "type": "quantitative", "scale": {"domain": [0, 1]}, "axis": null},
"text": {"field": "t"}
}
},
{"width": 149, "height": 242, "data": {"values": [{}]}, "mark": {"type": "text", "text": ""}, "encoding": {}},
{
"width": 150, "height": 166,
"view": {"stroke": "#222222", "strokeWidth": 1.5},
"data": {"values": [{"r": 0, "t": "Islet-like cells"}, {"r": 1, "t": "55.4% Protein"}, {"r": 2, "t": "31.4% Lipid"}, {"r": 3, "t": "4.1%\u00a0 DNA"}, {"r": 4, "t": "1.9%\u00a0 RNA"}, {"r": 5, "t": "7.2% Glycogen"}]},
"mark": {"type": "text", "align": "left", "baseline": "middle", "dx": 6, "fontSize": 20, "color": "#000000"},
"encoding": {
"y": {"field": "r", "type": "ordinal", "scale": {"type": "band", "paddingInner": 0, "paddingOuter": 0}, "axis": {"title": null, "labels": false, "ticks": false, "domain": false, "grid": true, "bandPosition": 0, "gridColor": "#c8c8c8", "gridWidth": 1}},
"x": {"datum": 0, "type": "quantitative", "scale": {"domain": [0, 1]}, "axis": null},
"text": {"field": "t"}
}
}
]
}
],
"config": {
"view": {"stroke": null},
"font": "Liberation Sans",
"axis": {"grid": false, "domainColor": "#000000", "domainWidth": 2, "tickColor": "#000000", "tickWidth": 2, "labelColor": "#000000", "labelFont": "Liberation Sans", "labelFontSize": 17, "labelFlush": false, "labelOverlap": false, "titleColor": "#000000", "titleFont": "Liberation Sans", "titleFontWeight": "bold"},
"axisY": {"labels": false, "ticks": false, "titleFontSize": 23, "titlePadding": 14},
"legend": {"labelFont": "Liberation Sans", "labelFontSize": 20, "labelFontWeight": "bold", "labelColor": "#000000", "symbolType": "M-5,0L5,0", "symbolSize": 100, "symbolStrokeWidth": 2.5, "labelOffset": 28, "padding": 0, "labelLimit": 500},
"title": {"font": "Liberation Sans", "color": "#000000"}
}
}
